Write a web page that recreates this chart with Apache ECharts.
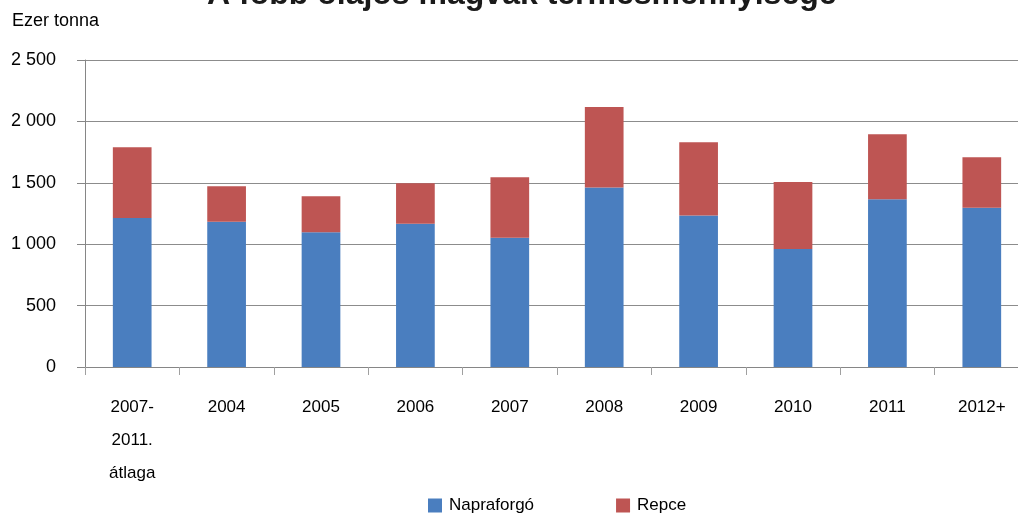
<!DOCTYPE html>
<html><head><meta charset="utf-8">
<script src="https://cdn.jsdelivr.net/npm/echarts@6/dist/echarts.min.js"></script>
<style>html,body{margin:0;padding:0;background:#fff;overflow:hidden;width:1018px;height:513px}#c{width:1032px;height:513px}</style>
</head><body><div id="c"></div>
<script>
const categories = ["2007-\n2011.\nátlaga","2004","2005","2006","2007","2008","2009","2010","2011","2012+"];
const napraforgo = [1214,1182,1098,1166,1052,1461,1233,960,1366,1296];
const repce = [576,290,293,330,493,656,597,547,529,412];
const yTicks = [0,500,1000,1500,2000,2500];
const titleText = "A főbb olajos magvak termésmennyisége";
const unitText = "Ezer tonna";

const SANS = '"Liberation Sans",Arial,sans-serif';
const chart = echarts.init(document.getElementById('c'), null, {renderer:'canvas'});
chart.setOption({
  animation:false,
  backgroundColor:'#fff',
  title:[{
    text: titleText, left: 202, top: -26,
    textStyle:{fontFamily:SANS, fontSize:32, fontWeight:'bold', color:'#1a1a1a'}
  },{
    text: unitText, left: 7, top: 7,
    textStyle:{fontFamily:SANS, fontSize:18, fontWeight:'normal', color:'#000'}
  }],
  legend:{
    data:['Napraforgó','Repce'], left:423, top:492,
    itemWidth:14, itemHeight:14, itemGap:82, icon:'rect',
    textStyle:{fontFamily:SANS, fontSize:17, color:'#000', padding:[0,0,0,2]}
  },
  grid:{left:85, width:944, top:60, height:307, containLabel:false},
  xAxis:{
    type:'category', data:categories, boundaryGap:true,
    axisLine:{show:true, lineStyle:{color:'#868686', width:1}},
    axisTick:{show:true, length:8, alignWithLabel:false, lineStyle:{color:'#a0a0a0', width:1}},
    axisLabel:{fontFamily:SANS, fontSize:17, color:'#000', margin:24, lineHeight:33, interval:0}
  },
  yAxis:{
    type:'value', min:0, max:2500, interval:500,
    axisLine:{show:true, lineStyle:{color:'#868686', width:1}},
    axisTick:{show:true, length:8, lineStyle:{color:'#868686'}},
    splitLine:{show:true, lineStyle:{color:'#8c8c8c', width:1}},
    axisLabel:{fontFamily:SANS, fontSize:18, color:'#000', margin:29,
      formatter:v=> yTicks.includes(v) ? String(v).replace(/\B(?=(\d{3})+(?!\d))/g,' ') : ''}
  },
  series:[
    {name:'Napraforgó', type:'bar', stack:'t', data:napraforgo, barWidth:'41%', itemStyle:{color:'#4A7EBF'}},
    {name:'Repce', type:'bar', stack:'t', data:repce, barWidth:'41%', itemStyle:{color:'#BE5553'}}
  ]
});
</script></body></html>
